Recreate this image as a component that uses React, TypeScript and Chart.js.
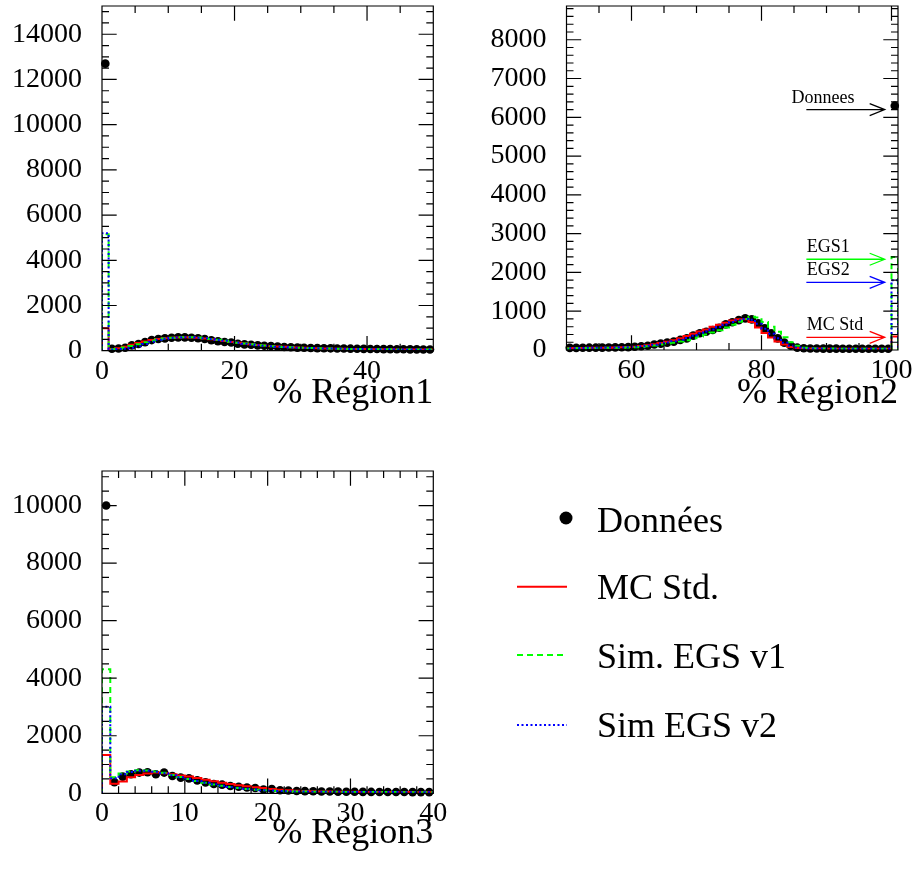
import React, { useEffect, useRef } from "react";
import { Chart, registerables } from "chart.js";

Chart.register(...registerables);

// ---------------- Data ----------------
const seriesNames = ["Données", "MC Std.", "Sim. EGS v1", "Sim EGS v2"];

// Région1 : bins of width 1 from 0 to 50
const r1Lo = 0;
const r1Hi = 50;
const r1Data = [12700, 85, 100, 130, 235, 295, 380, 470, 515, 545, 575, 590, 590, 575, 550, 520, 460, 415, 385, 365, 310, 280, 265, 235, 220, 205, 180, 165, 150, 135, 130, 120, 115, 110, 105, 100, 95, 90, 85, 80, 78, 75, 70, 68, 65, 62, 60, 58, 56, 55];
const r1Mc = [990, 70, 110, 180, 260, 340, 410, 470, 520, 550, 570, 585, 590, 585, 570, 545, 510, 470, 430, 390, 350, 315, 285, 255, 230, 210, 190, 170, 155, 140, 128, 118, 110, 102, 96, 90, 85, 80, 76, 72, 68, 65, 62, 60, 58, 56, 54, 52, 50, 48];
const r1Egs1 = [5150, 60, 90, 140, 210, 290, 370, 440, 500, 540, 570, 590, 600, 595, 580, 555, 520, 480, 440, 400, 355, 315, 280, 250, 225, 200, 180, 162, 148, 135, 125, 115, 108, 100, 94, 88, 83, 78, 74, 70, 67, 64, 61, 59, 57, 55, 53, 51, 50, 48];
const r1Egs2 = [5200, 55, 70, 90, 130, 200, 300, 400, 480, 530, 565, 585, 595, 590, 575, 550, 515, 475, 435, 395, 350, 310, 275, 245, 220, 198, 178, 160, 146, 134, 124, 114, 107, 100, 94, 88, 83, 78, 74, 70, 67, 64, 61, 59, 57, 55, 53, 51, 50, 48];
const r1XTicks = [0, 20, 40];
const r1YTicks = [0, 2000, 4000, 6000, 8000, 10000, 12000, 14000];
const r1YMax = 15250;
const r1Title = "% Région1";

// Région2 : bins of width 1 from 50 to 101 (last bin = 100 %)
const r2Lo = 50;
const r2Hi = 101;
const r2Data = [55, 55, 58, 60, 60, 62, 65, 68, 70, 75, 82, 95, 110, 140, 165, 190, 215, 260, 300, 370, 430, 470, 515, 575, 660, 715, 770, 815, 790, 690, 560, 430, 300, 190, 110, 60, 45, 40, 38, 36, 35, 35, 34, 34, 33, 33, 32, 32, 32, 32, 6300];
const r2Mc = [45, 50, 50, 55, 55, 60, 60, 65, 70, 75, 85, 100, 120, 150, 180, 210, 250, 300, 360, 420, 480, 530, 600, 650, 700, 760, 790, 790, 720, 580, 440, 320, 220, 140, 80, 50, 42, 40, 38, 36, 35, 35, 34, 34, 33, 33, 32, 32, 32, 32, 350];
const r2Egs1 = [40, 45, 45, 50, 50, 55, 55, 60, 60, 65, 70, 80, 95, 115, 140, 165, 190, 220, 250, 300, 350, 400, 450, 510, 580, 650, 730, 800, 860, 840, 720, 600, 470, 330, 200, 110, 60, 45, 40, 38, 36, 35, 34, 34, 33, 33, 32, 32, 32, 32, 2400];
const r2Egs2 = [45, 48, 52, 55, 58, 60, 62, 65, 68, 72, 82, 95, 112, 138, 165, 195, 225, 265, 310, 370, 430, 480, 530, 590, 660, 720, 770, 800, 780, 680, 550, 420, 300, 190, 110, 62, 46, 40, 38, 36, 35, 35, 34, 34, 33, 33, 32, 32, 32, 32, 1800];
const r2XTicks = [60, 80, 100];
const r2YTicks = [0, 1000, 2000, 3000, 4000, 5000, 6000, 7000, 8000];
const r2YMax = 8870;
const r2Title = "% Région2";
const r2ArrowLabels = ["Donnees", "EGS1", "EGS2", "MC Std"];
const r2ArrowValues = [6200, 2340, 1745, 327];

// Région3 : bins of width 1 from 0 to 40
const r3Lo = 0;
const r3Hi = 40;
const r3Data = [10000, 385, 580, 660, 720, 730, 660, 720, 600, 545, 520, 450, 380, 325, 300, 255, 230, 200, 185, 130, 150, 105, 95, 80, 75, 70, 65, 60, 58, 55, 52, 50, 48, 46, 45, 44, 43, 42, 41, 40];
const r3Mc = [1330, 330, 410, 560, 640, 690, 720, 700, 660, 620, 580, 530, 470, 420, 370, 320, 280, 245, 210, 180, 150, 125, 105, 90, 80, 72, 66, 61, 57, 54, 51, 49, 47, 45, 44, 43, 42, 41, 40, 39];
const r3Egs1 = [4310, 560, 690, 760, 800, 790, 760, 710, 640, 570, 500, 430, 370, 310, 260, 215, 180, 150, 125, 105, 90, 78, 70, 64, 60, 57, 54, 52, 50, 48, 46, 45, 44, 43, 42, 41, 40, 40, 39, 38];
const r3Egs2 = [3010, 520, 660, 740, 780, 780, 750, 700, 630, 560, 495, 430, 370, 315, 265, 220, 185, 155, 130, 110, 95, 82, 73, 66, 61, 57, 54, 52, 50, 48, 46, 45, 44, 43, 42, 41, 40, 40, 39, 38];
const r3XTicks = [0, 10, 20, 30, 40];
const r3YTicks = [0, 2000, 4000, 6000, 8000, 10000];
const r3YMax = 11200;
const r3Title = "% Région3";

// ---------------- Styles ----------------
const SERIF = "'Liberation Serif', 'Times New Roman', Times, serif";
const COLORS = ["#000000", "#ff0000", "#00ff00", "#0000ff"];

// ---------------- Helpers ----------------
// Histogram outline: each point is (left bin edge, bin content); drawn with stepped 'before'
function histPoints(lo: number, values: number[]) {
  const pts: { x: number; y: number }[] = [{ x: lo, y: 0 }];
  values.forEach((v, i) => pts.push({ x: lo + i, y: v }));
  pts.push({ x: lo + values.length, y: values[values.length - 1] });
  pts.push({ x: lo + values.length, y: 0 });
  return pts;
}

const frameTicks = {
  id: "frameTicks",
  afterDatasetsDraw(chart: any, _args: any, o: any) {
    const { ctx, chartArea: a } = chart;
    const xs = chart.scales.x;
    const ys = chart.scales.y;
    ctx.save();
    ctx.strokeStyle = "#000";
    ctx.lineWidth = 1.2;
    ctx.beginPath();
    ctx.rect(a.left, a.top, a.right - a.left, a.bottom - a.top);
    const isMajor = (v: number, m: number) => Math.abs(v / m - Math.round(v / m)) < 1e-6;
    let v = Math.ceil(xs.min / o.xMinor - 1e-9) * o.xMinor;
    for (; v <= xs.max + 1e-9; v += o.xMinor) {
      const px = xs.getPixelForValue(v);
      const len = isMajor(v, o.xMajor) ? 14.7 : 7;
      ctx.moveTo(px, a.bottom);
      ctx.lineTo(px, a.bottom - len);
      ctx.moveTo(px, a.top);
      ctx.lineTo(px, a.top + len);
    }
    v = Math.ceil(ys.min / o.yMinor - 1e-9) * o.yMinor;
    for (; v <= ys.max + 1e-9; v += o.yMinor) {
      const py = ys.getPixelForValue(v);
      const len = isMajor(v, o.yMajor) ? 14.7 : 7;
      ctx.moveTo(a.left, py);
      ctx.lineTo(a.left + len, py);
      ctx.moveTo(a.right, py);
      ctx.lineTo(a.right - len, py);
    }
    ctx.stroke();
    ctx.restore();
  },
};

const arrowNotes = {
  id: "arrowNotes",
  afterDatasetsDraw(chart: any, _args: any, o: any) {
    if (!o || !o.labels) return;
    const { ctx } = chart;
    const xs = chart.scales.x;
    const ys = chart.scales.y;
    const x0 = xs.getPixelForValue(o.from);
    const x1 = xs.getPixelForValue(o.to);
    ctx.save();
    o.labels.forEach((label: string, i: number) => {
      const y = ys.getPixelForValue(o.values[i]);
      ctx.strokeStyle = o.colors[i];
      ctx.lineWidth = 1.3;
      ctx.beginPath();
      ctx.moveTo(x0, y);
      ctx.lineTo(x1, y);
      ctx.moveTo(x1 - 15, y - 6);
      ctx.lineTo(x1, y);
      ctx.lineTo(x1 - 15, y + 6);
      ctx.stroke();
      ctx.fillStyle = "#000";
      ctx.font = `18px ${SERIF}`;
      ctx.textAlign = "left";
      ctx.textBaseline = "alphabetic";
      ctx.fillText(label, xs.getPixelForValue(o.textAt[i]), y - 7);
    });
    ctx.restore();
  },
};

type Spec = {
  left: number; top: number; w: number; h: number;
  pad: { left: number; top: number; right: number; bottom: number };
  yWidth: number; xHeight: number; titlePad: number;
  lo: number; hi: number; yMax: number;
  data: number[]; mc: number[]; egs1: number[]; egs2: number[];
  xTicks: number[]; yTicks: number[]; title: string;
  xMajor: number; xMinor: number; yMajor: number; yMinor: number;
  arrows?: any;
};

function buildConfig(s: Spec): any {
  const tickFont = { family: SERIF, size: 28 };
  const histStyle = { stepped: "before", borderWidth: 2, pointRadius: 0, fill: false };
  return {
    type: "line",
    data: {
      datasets: [
        {
          label: seriesNames[0],
          data: s.data.map((v, i) => ({ x: s.lo + i + 0.5, y: v })),
          showLine: false,
          pointRadius: 4.3,
          pointBackgroundColor: COLORS[0],
          pointBorderColor: COLORS[0],
          pointBorderWidth: 0,
          order: 4,
          clip: 10,
        },
        { label: seriesNames[1], data: histPoints(s.lo, s.mc), borderColor: COLORS[1], order: 3, ...histStyle },
        { label: seriesNames[2], data: histPoints(s.lo, s.egs1), borderColor: COLORS[2], borderDash: [6, 4], order: 2, ...histStyle },
        { label: seriesNames[3], data: histPoints(s.lo, s.egs2), borderColor: COLORS[3], borderDash: [2, 2.5], order: 1, ...histStyle },
      ],
    },
    options: {
      responsive: false,
      animation: false,
      events: [],
      layout: { padding: s.pad },
      plugins: {
        legend: { display: false },
        tooltip: { enabled: false },
        frameTicks: { xMajor: s.xMajor, xMinor: s.xMinor, yMajor: s.yMajor, yMinor: s.yMinor },
        arrowNotes: s.arrows || {},
      },
      scales: {
        x: {
          type: "linear",
          min: s.lo,
          max: s.hi,
          bounds: "data",
          grid: { display: false, drawTicks: false },
          border: { display: false },
          afterBuildTicks: (sc: any) => {
            sc.ticks = s.xTicks.map((v) => ({ value: v }));
          },
          afterFit: (sc: any) => {
            sc.height = s.xHeight;
            sc.paddingLeft = 0;
            sc.paddingRight = 0;
          },
          ticks: {
            font: tickFont,
            color: "#000",
            padding: 4,
            maxRotation: 0,
            minRotation: 0,
            autoSkip: false,
            callback: (v: any) => String(v),
          },
          title: {
            display: true,
            text: s.title,
            align: "end",
            color: "#000",
            font: { family: SERIF, size: 36 },
            padding: { top: 0, bottom: s.titlePad },
          },
        },
        y: {
          type: "linear",
          min: 0,
          max: s.yMax,
          bounds: "data",
          grid: { display: false, drawTicks: false },
          border: { display: false },
          afterBuildTicks: (sc: any) => {
            sc.ticks = s.yTicks.map((v) => ({ value: v }));
          },
          afterFit: (sc: any) => {
            sc.width = s.yWidth;
            sc.paddingTop = 0;
            sc.paddingBottom = 0;
          },
          ticks: {
            font: tickFont,
            color: "#000",
            padding: 20,
            autoSkip: false,
            callback: (v: any) => String(v),
          },
        },
      },
    },
    plugins: [frameTicks, arrowNotes],
  };
}

function Panel({ spec }: { spec: Spec }) {
  const ref = useRef<HTMLCanvasElement>(null);
  useEffect(() => {
    const chart = new Chart(ref.current as HTMLCanvasElement, buildConfig(spec));
    return () => chart.destroy();
  }, []);
  return (
    <canvas
      ref={ref}
      width={spec.w}
      height={spec.h}
      style={{ position: "absolute", left: spec.left, top: spec.top, width: spec.w, height: spec.h }}
    />
  );
}

const panel1: Spec = {
  left: 0, top: 0, w: 458, h: 430,
  pad: { left: 0, top: 6, right: 24.7, bottom: 0 },
  yWidth: 102, xHeight: 79.3, titlePad: 15,
  lo: r1Lo, hi: r1Hi, yMax: r1YMax,
  data: r1Data, mc: r1Mc, egs1: r1Egs1, egs2: r1Egs2,
  xTicks: r1XTicks, yTicks: r1YTicks, title: r1Title,
  xMajor: 20, xMinor: 5, yMajor: 2000, yMinor: 500,
};

const panel2: Spec = {
  left: 458, top: 0, w: 470, h: 430,
  pad: { left: 0, top: 6, right: 30, bottom: 0 },
  yWidth: 108.5, xHeight: 80, titlePad: 15,
  lo: r2Lo, hi: r2Hi, yMax: r2YMax,
  data: r2Data, mc: r2Mc, egs1: r2Egs1, egs2: r2Egs2,
  xTicks: r2XTicks, yTicks: r2YTicks, title: r2Title,
  xMajor: 20, xMinor: 5, yMajor: 1000, yMinor: 200,
  arrows: {
    labels: r2ArrowLabels,
    values: r2ArrowValues,
    colors: [COLORS[0], COLORS[2], COLORS[3], COLORS[1]],
    textAt: [84.6, 86.95, 86.95, 86.95],
    from: 86.9,
    to: 98.95,
  },
};

const panel3: Spec = {
  left: 0, top: 430, w: 458, h: 444,
  pad: { left: 0, top: 41, right: 24.7, bottom: 0 },
  yWidth: 102, xHeight: 80.7, titlePad: 18.5,
  lo: r3Lo, hi: r3Hi, yMax: r3YMax,
  data: r3Data, mc: r3Mc, egs1: r3Egs1, egs2: r3Egs2,
  xTicks: r3XTicks, yTicks: r3YTicks, title: r3Title,
  xMajor: 10, xMinor: 2, yMajor: 2000, yMinor: 500,
};

function Legend() {
  const textStyle = { fontFamily: SERIF, fontSize: 36, fill: "#000" } as any;
  return (
    <svg
      width={917}
      height={874}
      style={{ position: "absolute", left: 0, top: 0, pointerEvents: "none" }}
    >
      <circle cx={566} cy={518} r={6.5} fill={COLORS[0]} />
      <text x={597} y={531.7} style={textStyle}>{seriesNames[0]}</text>
      <line x1={517} x2={567} y1={586.7} y2={586.7} stroke={COLORS[1]} strokeWidth={2} />
      <text x={597} y={599.3} style={textStyle}>{seriesNames[1]}</text>
      <line x1={517} x2={567} y1={655} y2={655} stroke={COLORS[2]} strokeWidth={2} strokeDasharray="6 4" />
      <text x={597} y={668} style={textStyle}>{seriesNames[2]}</text>
      <line x1={517} x2={567} y1={725} y2={725} stroke={COLORS[3]} strokeWidth={2} strokeDasharray="2 2.5" />
      <text x={597} y={737} style={textStyle}>{seriesNames[3]}</text>
    </svg>
  );
}

export default function App() {
  return (
    <div
      style={{
        position: "absolute",
        left: 0,
        top: 0,
        width: 917,
        height: 874,
        overflow: "hidden",
        background: "#fff",
      }}
    >
      <Panel spec={panel1} />
      <Panel spec={panel2} />
      <Panel spec={panel3} />
      <Legend />
    </div>
  );
}
